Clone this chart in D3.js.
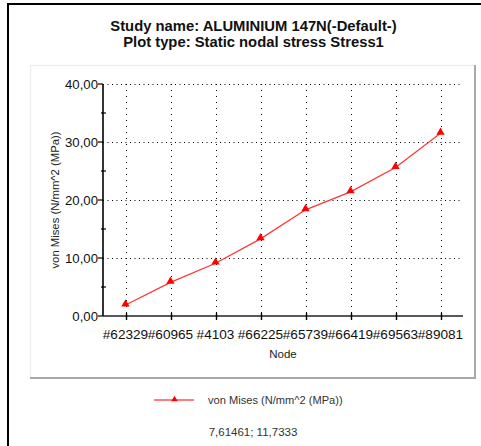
<!DOCTYPE html>
<html>
<head>
<meta charset="utf-8">
<script src="https://cdn.jsdelivr.net/npm/d3@7"></script>
<style>
  html, body { margin: 0; padding: 0; background: #fff; }
  svg { display: block; font-family: "Liberation Sans", Arial, sans-serif; }
</style>
</head>
<body>
<svg id="chart" width="481" height="446"></svg>
<script>
// Nodes along the path and their von Mises stress (N/mm^2)
const nodes = ["#62329", "#60965", "#4103", "#66225", "#65739", "#66419", "#69563", "#89081"];
const stress = [1.9, 5.8, 9.1, 13.3, 18.3, 21.4, 25.6, 31.5];
const yMajorTicks = [0, 10, 20, 30, 40];
const yMinorTicks = [5, 15, 25, 35];
const titleLines = ["Study name: ALUMINIUM 147N(-Default-)", "Plot type: Static nodal stress Stress1"];
const seriesName = "von Mises (N/mm^2 (MPa))";
const cursorText = "7,61461; 11,7333";

const svg = d3.select("#chart");
const fmt = v => d3.format(".2f")(v).replace(".", ",");

// Window frame
svg.append("line").attr("x1", 8).attr("x2", 8).attr("y1", 3).attr("y2", 446)
  .attr("stroke", "#000").attr("stroke-width", 2);
svg.append("line").attr("x1", 7).attr("x2", 481).attr("y1", 4).attr("y2", 4)
  .attr("stroke", "#000").attr("stroke-width", 2);

// Titles
svg.append("g").selectAll("text").data(titleLines).join("text")
  .attr("x", 253.5).attr("y", (d, i) => 31 + i * 16)
  .attr("text-anchor", "middle")
  .attr("font-size", 14.8).attr("font-weight", "bold").attr("fill", "#111")
  .text(d => d);

// Inner chart panel (raised edge)
svg.append("rect").attr("x", 30).attr("y", 65).attr("width", 445).attr("height", 313)
  .attr("fill", "#fff");
svg.append("path").attr("d", "M30.5,378 V65.5 H475").attr("fill", "none")
  .attr("stroke", "#eeeeee").attr("stroke-width", 1.5);
svg.append("path").attr("d", "M30,378 H475 V65").attr("fill", "none")
  .attr("stroke", "#a8a8a8").attr("stroke-width", 2);

// Plot area
const plot = { left: 103, right: 463, top: 84, bottom: 316 };
const x = d3.scaleBand().domain(nodes).range([plot.left, plot.right]).padding(0);
const y = d3.scaleLinear().domain([0, 40]).range([plot.bottom, plot.top]);
const cx = d => x(d) + x.bandwidth() / 2;

// Grid
const grid = svg.append("g");
grid.selectAll("line.h").data(yMajorTicks.filter(v => v > 0)).join("line")
  .attr("class", "h")
  .attr("x1", plot.left).attr("x2", plot.right)
  .attr("y1", d => y(d) + 0.5).attr("y2", d => y(d) + 0.5)
  .attr("stroke", "#000").attr("stroke-width", 1).attr("stroke-dasharray", "1,3.5");
grid.selectAll("line.v").data(nodes).join("line")
  .attr("class", "v")
  .attr("x1", d => Math.round(cx(d)) + 0.5).attr("x2", d => Math.round(cx(d)) + 0.5)
  .attr("y1", plot.top).attr("y2", plot.bottom)
  .attr("stroke", "#000").attr("stroke-width", 1).attr("stroke-dasharray", "1,5");

// Y axis
const yAxis = svg.append("g");
yAxis.append("line").attr("x1", plot.left).attr("x2", plot.left)
  .attr("y1", plot.top).attr("y2", plot.bottom)
  .attr("stroke", "#000").attr("stroke-width", 1.6);
yAxis.selectAll("line.maj").data(yMajorTicks).join("line").attr("class", "maj")
  .attr("x1", plot.left - 5).attr("x2", plot.left)
  .attr("y1", d => y(d)).attr("y2", d => y(d))
  .attr("stroke", "#000").attr("stroke-width", 1.2);
yAxis.selectAll("line.min").data(yMinorTicks).join("line").attr("class", "min")
  .attr("x1", plot.left - 2).attr("x2", plot.left + 3)
  .attr("y1", d => y(d)).attr("y2", d => y(d))
  .attr("stroke", "#000").attr("stroke-width", 1.2);
yAxis.selectAll("text").data(yMajorTicks).join("text")
  .attr("x", plot.left - 5).attr("y", d => y(d) + 4.8)
  .attr("text-anchor", "end").attr("font-size", 13.2).attr("fill", "#111")
  .text(fmt);

// X axis
const xAxis = svg.append("g");
xAxis.append("line").attr("x1", plot.left).attr("x2", plot.right)
  .attr("y1", plot.bottom).attr("y2", plot.bottom)
  .attr("stroke", "#222").attr("stroke-width", 1.6);
xAxis.selectAll("line.t").data(nodes).join("line").attr("class", "t")
  .attr("x1", d => Math.round(cx(d)) + 0.5).attr("x2", d => Math.round(cx(d)) + 0.5)
  .attr("y1", plot.bottom - 3).attr("y2", plot.bottom + 4)
  .attr("stroke", "#000").attr("stroke-width", 1.4);
xAxis.selectAll("text").data(nodes).join("text")
  .attr("x", d => cx(d)).attr("y", 339)
  .attr("text-anchor", "middle").attr("font-size", 13.6).attr("fill", "#111")
  .text(d => d);

// Axis titles
svg.append("text").attr("x", (plot.left + plot.right) / 2).attr("y", 358)
  .attr("text-anchor", "middle").attr("font-size", 11.5).attr("fill", "#222")
  .text("Node");
svg.append("text")
  .attr("transform", `translate(59,${(plot.top + plot.bottom) / 2}) rotate(-90)`)
  .attr("text-anchor", "middle").attr("font-size", 11.3).attr("fill", "#222")
  .text(seriesName);

// Series line and markers
const line = d3.line().x((d, i) => cx(nodes[i])).y(d => y(d));
svg.append("path").datum(stress).attr("d", line)
  .attr("fill", "none").attr("stroke", "#ff3333").attr("stroke-width", 1.2);
const tri = d3.symbol().type(d3.symbolTriangle).size(30);
svg.append("g").selectAll("path").data(stress).join("path")
  .attr("transform", (d, i) => `translate(${cx(nodes[i])},${y(d) - 1})`)
  .attr("d", tri).attr("fill", "#ff0000");

// Legend
svg.append("line").attr("x1", 154).attr("x2", 194).attr("y1", 400).attr("y2", 400)
  .attr("stroke", "#ff5555").attr("stroke-width", 1.4);
svg.append("path").attr("transform", "translate(174.5,399.5)")
  .attr("d", d3.symbol().type(d3.symbolTriangle).size(18)).attr("fill", "#ff0000");
svg.append("text").attr("x", 208).attr("y", 404)
  .attr("font-size", 11.1).attr("fill", "#333").text(seriesName);
svg.append("text").attr("x", 253).attr("y", 436)
  .attr("text-anchor", "middle").attr("font-size", 11.5).attr("fill", "#333")
  .text(cursorText);
</script>
</body>
</html>
